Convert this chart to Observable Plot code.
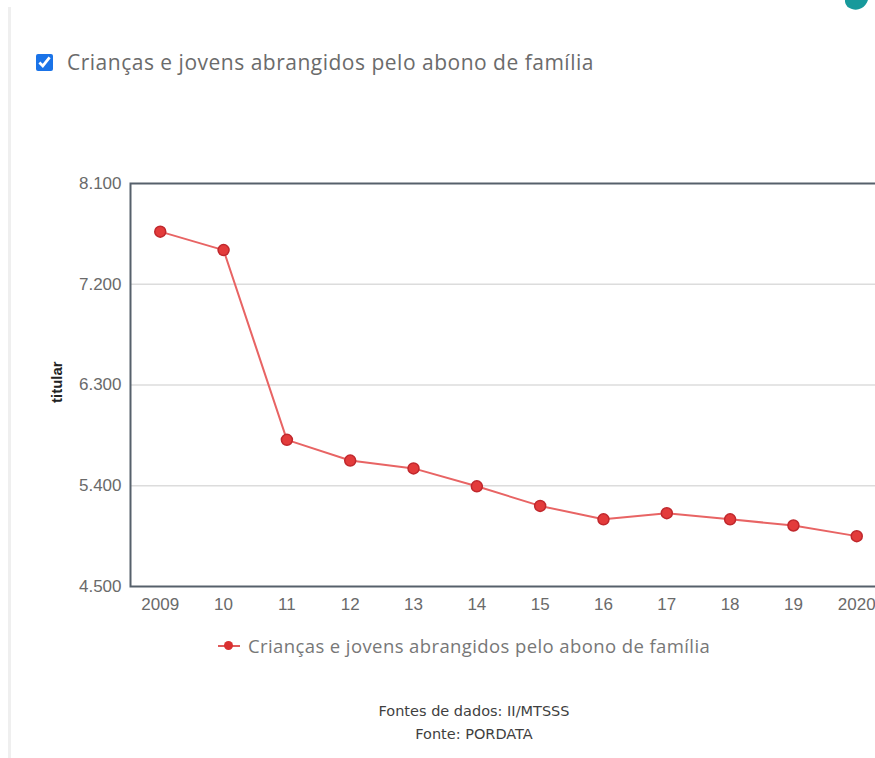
<!DOCTYPE html>
<html>
<head>
<meta charset="utf-8">
<script src="https://cdn.jsdelivr.net/npm/d3@7"></script>
<script src="https://cdn.jsdelivr.net/npm/@observablehq/plot@0.6"></script>
<style>
  html, body { margin: 0; padding: 0; width: 875px; height: 758px; overflow: hidden; background: #fff; }
  #page { position: relative; width: 875px; height: 758px; overflow: hidden; }
  #card-edge { position: absolute; left: 8px; top: 7px; width: 3px; height: 760px; background: #efefef; }
  #blob { position: absolute; left: 846px; top: -14px; width: 22px; height: 24px; background: #17999b; border-radius: 50% 50% 60% 40%; transform: rotate(20deg); }
  #header { position: absolute; left: 36px; top: 48px; display: flex; align-items: center; z-index: 2; }
  #header input { width: 17px; height: 17px; margin: 0 14px 0 0; accent-color: #1a73e8; }
  #header span { font-family: "Open Sans", sans-serif; font-size: 21px; letter-spacing: 0.5px; color: #6b6b6b; }
  #chart { position: absolute; left: 0; top: 0; }
  #chart svg { max-width: none !important; }
  #legend { position: absolute; left: 218px; top: 633px; display: flex; align-items: center; font-family: "Open Sans", sans-serif; font-size: 18.5px; letter-spacing: 0.4px; color: #777; }
  #legend .sw { position: relative; width: 22px; height: 12px; margin-right: 8px; }
  #legend .sw::before { content: ""; position: absolute; left: 0; top: 5px; width: 22px; height: 2px; background: #e05a5a; }
  #legend .sw::after { content: ""; position: absolute; left: 6px; top: 1.5px; width: 9px; height: 9px; border-radius: 50%; background: #d93030; }
  #footer { position: absolute; left: 324px; width: 300px; top: 700px; text-align: center; font-family: "DejaVu Sans", sans-serif; font-size: 14.5px; line-height: 23px; color: #3f3f3f; }
</style>
</head>
<body>
<div id="page">
  <div id="card-edge"></div>
  <div id="blob"></div>
  <div id="header"><input type="checkbox" checked><span id="header-text"></span></div>
  <div id="chart"></div>
  <div id="legend"><span class="sw"></span><span id="legend-text"></span></div>
  <div id="footer"><div id="src1"></div><div id="src2"></div></div>
</div>
<script>
const seriesName = "Crianças e jovens abrangidos pelo abono de família";
const yLabel = "titular";
const years = [2009, 2010, 2011, 2012, 2013, 2014, 2015, 2016, 2017, 2018, 2019, 2020];
const values = [7670, 7505, 5810, 5625, 5555, 5395, 5220, 5100, 5155, 5100, 5045, 4950];
const xTickLabels = ["2009", "10", "11", "12", "13", "14", "15", "16", "17", "18", "19", "2020"];
const yTicks = [4500, 5400, 6300, 7200, 8100];
const gridValues = [5400, 6300, 7200];
const sourceLines = ["Fontes de dados: II/MTSSS", "Fonte: PORDATA"];

document.getElementById("header-text").textContent = seriesName;
document.getElementById("legend-text").textContent = seriesName;
document.getElementById("src1").textContent = sourceLines[0];
document.getElementById("src2").textContent = sourceLines[1];

const data = years.map((year, i) => ({year, value: values[i]}));

const chart = Plot.plot({
  width: 890,
  height: 626,
  marginLeft: 130,
  marginRight: 4,
  marginTop: 183,
  marginBottom: 40,
  style: {fontFamily: "'Liberation Sans', Arial, sans-serif", fontSize: "17px", color: "#6a6a6a", background: "transparent", maxWidth: "none"},
  x: {
    type: "linear",
    domain: [2008.53, 2020.47],
    ticks: years,
    tickFormat: d => xTickLabels[years.indexOf(d)],
    tickSize: 0,
    tickPadding: 11,
    label: null
  },
  y: {
    domain: [4500, 8100],
    ticks: yTicks,
    tickFormat: d => d3.format(",")(d).replace(/,/g, "."),
    tickSize: 0,
    tickPadding: 9,
    label: null
  },
  marks: [
    Plot.ruleY(gridValues, {stroke: "#dcdcdc", strokeWidth: 1.5}),
    Plot.frame({stroke: "#56606b", strokeWidth: 2}),
    Plot.text([yLabel], {frameAnchor: "left", dx: -73, dy: 18, rotate: -90, fontWeight: "bold", fontSize: 15, fill: "#222", text: d => d}),
    Plot.line(data, {x: "year", y: "value", stroke: "#e86464", strokeWidth: 2}),
    Plot.dot(data, {x: "year", y: "value", r: 5.5, fill: "#e33b3b", stroke: "#c0282d", strokeWidth: 1.5})
  ]
});
document.getElementById("chart").appendChild(chart);
</script>
</body>
</html>
